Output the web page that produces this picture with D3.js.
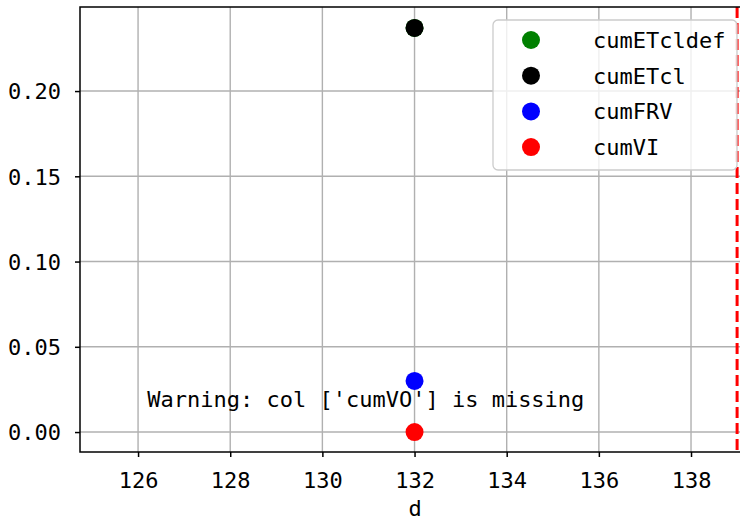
<!DOCTYPE html>
<html>
<head>
<meta charset="utf-8">
<script src="https://cdn.jsdelivr.net/npm/d3@7"></script>
<style>
  html, body { margin: 0; padding: 0; background: #ffffff; }
  svg { display: block; }
  text { font-family: "DejaVu Sans Mono", "Liberation Mono", monospace; }
</style>
</head>
<body>
<svg id="chart" width="740" height="522"></svg>
<script>
// ---- data ----
const seriesNames = ["cumETcldef", "cumETcl", "cumFRV", "cumVI"];
const seriesColors = ["#008000", "#000000", "#0000ff", "#ff0000"];
const xValues = [132];
const cumETcldef = [0.237];
const cumETcl = [0.237];
const cumFRV = [0.030];
const cumVI = [0.0];
const seriesValues = [cumETcldef, cumETcl, cumFRV, cumVI];
const xTicks = [126, 128, 130, 132, 134, 136, 138];
const yTicks = [0.00, 0.05, 0.10, 0.15, 0.20];
const vLineX = 139;
const xDomain = [124.74, 139.28];
const yDomain = [-0.0117, 0.2493];
const warningText = "Warning: col ['cumVO'] is missing";
const warningPos = [126.2, 0.0147];
const xLabel = "d";

// ---- layout ----
const svg = d3.select("#chart");
const pL = 80, pR = 750, pT = 7, pB = 452;
const x = d3.scaleLinear().domain(xDomain).range([pL, pR]);
const y = d3.scaleLinear().domain(yDomain).range([pB, pT]);
const fontSize = 22, ls = 0;

// grid
const grid = svg.append("g");
grid.selectAll("line.gx").data(xTicks).join("line")
  .attr("x1", d => x(d)).attr("x2", d => x(d))
  .attr("y1", pT).attr("y2", pB)
  .attr("stroke", "#b0b0b0").attr("stroke-width", 1.4);
grid.selectAll("line.gy").data(yTicks).join("line")
  .attr("x1", pL).attr("x2", pR)
  .attr("y1", d => y(d)).attr("y2", d => y(d))
  .attr("stroke", "#b0b0b0").attr("stroke-width", 1.4);

// points
seriesValues.forEach((vals, i) => {
  svg.append("g").selectAll("circle").data(vals).join("circle")
    .attr("cx", (d, j) => x(xValues[j]))
    .attr("cy", d => y(d))
    .attr("r", 9)
    .attr("fill", seriesColors[i]);
});

// vertical dashed line
svg.append("line")
  .attr("x1", x(vLineX)).attr("x2", x(vLineX))
  .attr("y1", pT).attr("y2", pB)
  .attr("stroke", "#ff0000").attr("stroke-width", 3)
  .attr("stroke-dasharray", "11,5");

// axes
const xAxis = d3.axisBottom(x).tickValues(xTicks).tickFormat(d3.format("d")).tickSize(5).tickPadding(8);
const yAxis = d3.axisLeft(y).tickValues(yTicks).tickFormat(d3.format(".2f")).tickSize(5).tickPadding(8);
const gx = svg.append("g").attr("transform", `translate(0,${pB})`).call(xAxis);
const gy = svg.append("g").attr("transform", `translate(${pL},0)`).call(yAxis);
[gx, gy].forEach(g => {
  g.select(".domain").remove();
  g.selectAll(".tick line").attr("stroke", "#000").attr("stroke-width", 1.5);
  g.selectAll(".tick text").attr("fill", "#000")
    .style("font-size", fontSize + "px").style("letter-spacing", ls + "px")
    .style("font-family", "'DejaVu Sans Mono', monospace");
});
gx.selectAll(".tick text").attr("dy", null).attr("y", 36);
gy.selectAll(".tick text").attr("dy", "0.36em").attr("x", -19);

// spines
svg.append("rect")
  .attr("x", pL).attr("y", pT)
  .attr("width", pR - pL).attr("height", pB - pT)
  .attr("fill", "none").attr("stroke", "#000").attr("stroke-width", 1.5);

// warning text
svg.append("text")
  .attr("x", x(warningPos[0])).attr("y", y(warningPos[1]))
  .style("font-size", fontSize + "px").style("letter-spacing", ls + "px")
  .attr("fill", "#000")
  .text(warningText);

// x label
svg.append("text")
  .attr("x", (pL + pR) / 2).attr("y", 516)
  .attr("text-anchor", "middle")
  .style("font-size", fontSize + "px")
  .attr("fill", "#000")
  .text(xLabel);

// legend
const lg = svg.append("g");
lg.append("rect")
  .attr("x", 493).attr("y", 20).attr("width", 244).attr("height", 150)
  .attr("rx", 5).attr("ry", 5)
  .attr("fill", "#ffffff").attr("fill-opacity", 0.8)
  .attr("stroke", "#cccccc").attr("stroke-width", 1.3);
const items = lg.selectAll("g.item").data(seriesNames).join("g")
  .attr("transform", (d, i) => `translate(0,${40 + i * 35.7})`);
items.append("circle").attr("cx", 531).attr("cy", 0).attr("r", 9)
  .attr("fill", (d, i) => seriesColors[i]);
items.append("text").attr("x", 593).attr("y", 8)
  .style("font-size", fontSize + "px").style("letter-spacing", ls + "px")
  .attr("fill", "#000")
  .text(d => d);
</script>
</body>
</html>
